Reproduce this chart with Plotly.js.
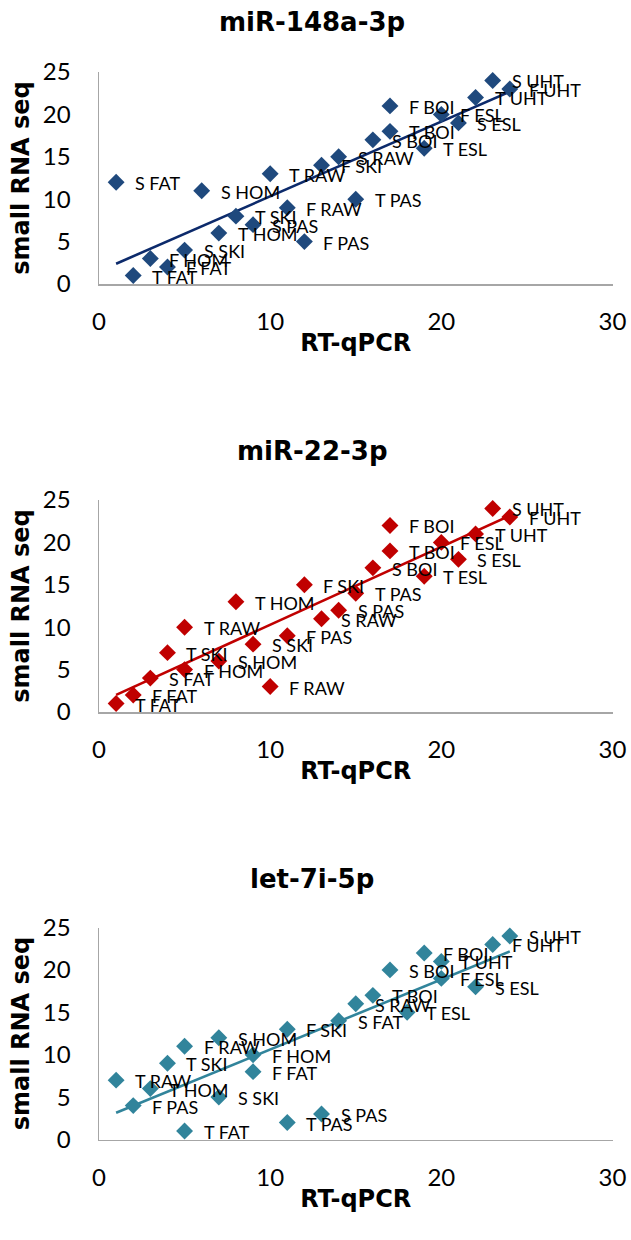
<!DOCTYPE html>
<html><head><meta charset="utf-8">
<script src="https://cdn.plot.ly/plotly-3.0.1.min.js"></script>
<style>html,body{margin:0;padding:0;background:#fff}</style>
</head><body><div id="chart" style="width:631px;height:1240px"></div>
<script>
// ---- data ----
const titles = ['miR-148a-3p', 'miR-22-3p', 'let-7i-5p'];
const xTitle = 'RT-qPCR';
const yTitle = 'small RNA seq';
const xTickVals = [0, 10, 20, 30];
const yTickVals = [0, 5, 10, 15, 20, 25];

const labels1 = ['S FAT','T FAT','F HOM','F FAT','S SKI','S HOM','T HOM','T SKI','S PAS','T RAW','F RAW','F PAS','F SKI','S RAW','T PAS','S BOI','F BOI','T BOI','T ESL','F ESL','S ESL','T UHT','S UHT','F UHT'];
const qpcr1   = [1,2,3,4,5,6,7,8,9,10,11,12,13,14,15,16,17,17,19,20,21,22,23,24];
const seq1    = [12,1,3,2,4,11,6,8,7,13,9,5,14,15,10,17,21,18,16,20,19,22,24,23];

const labels2 = ['T FAT','F FAT','S FAT','T SKI','F HOM','T RAW','S HOM','T HOM','S SKI','F RAW','F PAS','F SKI','S RAW','S PAS','T PAS','S BOI','F BOI','T BOI','T ESL','F ESL','S ESL','T UHT','S UHT','F UHT'];
const qpcr2   = [1,2,3,4,5,5,7,8,9,10,11,12,13,14,15,16,17,17,19,20,21,22,23,24];
const seq2    = [1,2,4,7,5,10,6,13,8,3,9,15,11,12,14,17,22,19,16,20,18,21,24,23];

const labels3 = ['T RAW','F PAS','T HOM','T SKI','F RAW','T FAT','S HOM','S SKI','F HOM','F FAT','F SKI','T PAS','S PAS','S FAT','S RAW','T BOI','S BOI','T ESL','F BOI','T UHT','F ESL','S ESL','F UHT','S UHT'];
const qpcr3   = [1,2,3,4,5,5,7,7,9,9,11,11,13,14,15,16,17,18,19,20,20,22,23,24];
const seq3    = [7,4,6,9,11,1,12,5,10,8,13,2,3,14,16,17,20,15,22,21,19,18,23,24];

// ---- styling ----
const markerColors = ['#1F497D', '#C00000', '#31849B'];
const lineColors   = ['#0C2A6B', '#C00000', '#31849B'];
const W = 631, H = 1240;
const xDom = [99 / W, 612.5 / W];
const panelTops = [72, 500, 927.5];   // pixel y of value 25
const panelBots = [284, 712, 1139.5]; // pixel y of value 0
const titleY = [22, 451, 879];

const panels = [
  {labels: labels1, x: qpcr1, y: seq1},
  {labels: labels2, x: qpcr2, y: seq2},
  {labels: labels3, x: qpcr3, y: seq3}
];

function ols(x, y) {
  const n = x.length;
  const mx = x.reduce((a, b) => a + b, 0) / n;
  const my = y.reduce((a, b) => a + b, 0) / n;
  let sxy = 0, sxx = 0;
  for (let i = 0; i < n; i++) { sxy += (x[i] - mx) * (y[i] - my); sxx += (x[i] - mx) ** 2; }
  const b = sxy / sxx;
  return {b: b, a: my - b * mx};
}

const data = [];
const annotations = [];
const layout = {
  width: W, height: H,
  margin: {l: 0, r: 0, t: 0, b: 0},
  paper_bgcolor: '#fff', plot_bgcolor: 'rgba(0,0,0,0)',
  showlegend: false,
  annotations: annotations
};

panels.forEach((p, k) => {
  const sfx = k === 0 ? '' : String(k + 1);
  const xa = 'x' + sfx, ya = 'y' + sfx;
  // trend line
  const fit = ols(p.x, p.y);
  const xmin = Math.min(...p.x), xmax = Math.max(...p.x);
  data.push({
    type: 'scatter', mode: 'lines', xaxis: xa, yaxis: ya,
    x: [xmin, xmax], y: [fit.a + fit.b * xmin, fit.a + fit.b * xmax],
    line: {color: lineColors[k], width: 2.6}, hoverinfo: 'skip'
  });
  // points
  data.push({
    type: 'scatter', mode: 'markers', xaxis: xa, yaxis: ya,
    x: p.x, y: p.y, text: p.labels,
    marker: {symbol: 'diamond', size: 13, color: markerColors[k]},
    cliponaxis: false
  });
  // point labels
  p.labels.forEach((t, i) => {
    annotations.push({
      xref: xa, yref: ya, x: p.x[i], y: p.y[i], text: t,
      showarrow: false, xanchor: 'left', yanchor: 'middle',
      xshift: 17, yshift: -1,
      font: {family: 'Lato, sans-serif', size: 18, color: '#000'}
    });
  });
  // panel title
  annotations.push({
    xref: 'paper', yref: 'paper', x: 312 / W, y: 1 - titleY[k] / H,
    text: '<b>' + titles[k] + '</b>', showarrow: false,
    xanchor: 'center', yanchor: 'middle',
    font: {family: 'DejaVu Sans, sans-serif', size: 26, color: '#000'}
  });
  const yDom = [1 - panelBots[k] / H, 1 - panelTops[k] / H];
  layout['xaxis' + sfx] = {
    domain: xDom, anchor: ya, range: [0, 30],
    tickvals: xTickVals, ticktext: xTickVals.map(String),
    showgrid: false, zeroline: false, showline: true,
    linecolor: '#A6A6A6', linewidth: 1.5, ticks: '',
    ticklabelstandoff: 16,
    tickfont: {family: 'Lato, sans-serif', size: 24, color: '#000'},
    title: {text: '<b>' + xTitle + '</b>', standoff: 0,
            font: {family: 'DejaVu Sans, sans-serif', size: 24, color: '#000'}},
    fixedrange: true
  };
  layout['yaxis' + sfx] = {
    domain: yDom, anchor: xa, range: [0, 25],
    tickvals: yTickVals, ticktext: yTickVals.map(String),
    showgrid: false, zeroline: false, showline: true,
    linecolor: '#A6A6A6', linewidth: 1.5, ticks: '',
    ticklabelstandoff: 22,
    tickfont: {family: 'Lato, sans-serif', size: 24, color: '#000'},
    title: {text: '<b>' + yTitle + '</b>', standoff: 6,
            font: {family: 'DejaVu Sans, sans-serif', size: 24, color: '#000'}},
    fixedrange: true
  };
});

Plotly.newPlot('chart', data, layout, {displayModeBar: false, staticPlot: true});
</script>
</body></html>
